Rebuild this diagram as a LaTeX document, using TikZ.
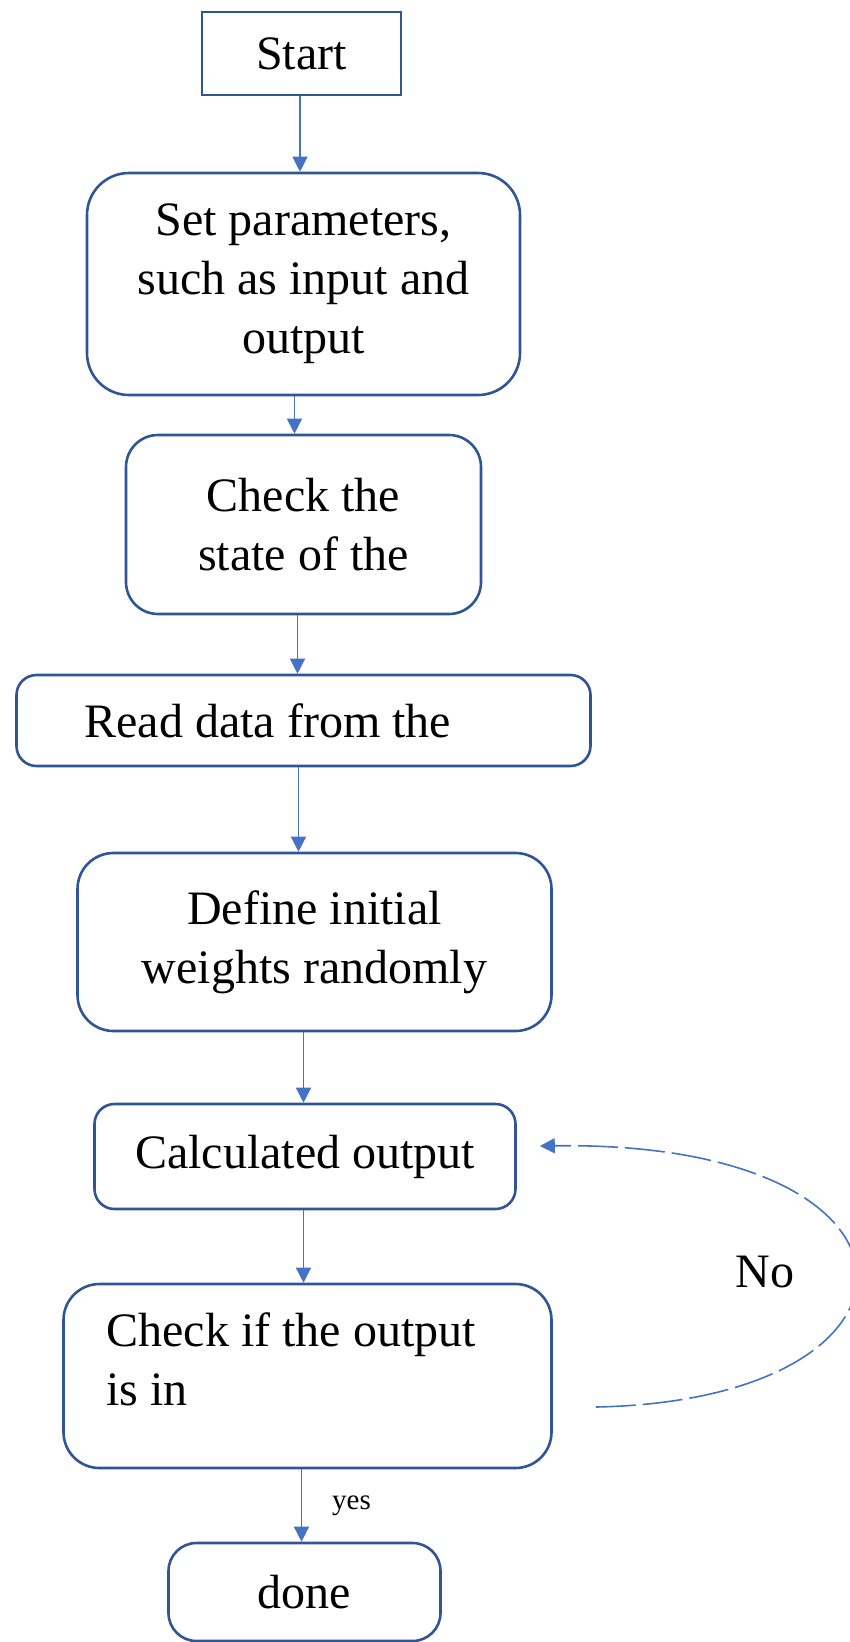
\documentclass[tikz,border=0pt]{standalone}
\usepackage{fontspec}
\setmainfont{Liberation Serif}
\usepackage{xcolor}
\usepackage{tikz}
\usetikzlibrary{arrows.meta}

\definecolor{boxblue}{HTML}{2F5597}
\definecolor{lineblue}{HTML}{4472C4}

\begin{document}
\begin{tikzpicture}[x=1pt, y=-1pt, auto,
    box/.style={draw=boxblue, line width=2.6pt, rectangle, align=center, inner sep=0pt, font=\fontsize{48}{59}\selectfont},
    flow/.style={-{Triangle[length=15pt,width=15pt]}, color=lineblue, line width=1.3pt}]
            \useasboundingbox (0,0) rectangle (850,1642);
            \node[box, minimum width=199pt, minimum height=83pt] (start) at (301.5,53.5) {Start};
            \node[box, rounded corners=42pt, minimum width=433pt, minimum height=222pt, below of=start, node distance=230.5pt, xshift=2pt] (params) {Set parameters,\\such as input and\\output};
            \node[box, rounded corners=32pt, minimum width=355pt, minimum height=179pt, below of=params, node distance=240.5pt] (state) {Check the\\state of the};
            \node[box, rounded corners=20pt, minimum width=574pt, minimum height=91pt, align=flush left, text width=438pt, inner xsep=68pt, below of=state, node distance=196pt] (read) {Read data from the};
            \node[box, rounded corners=36pt, minimum width=474pt, minimum height=178pt, below of=read, node distance=221.5pt, xshift=11pt] (define) {Define initial\\weights randomly};
            \node[box, rounded corners=20pt, minimum width=421pt, minimum height=105pt, below of=define, node distance=214.5pt, xshift=-9.5pt] (calc) {Calculated output};
            \node[box, rounded corners=36pt, minimum width=488pt, minimum height=184pt, align=flush left, text width=402pt, inner xsep=43pt, text depth=93pt, below of=calc, node distance=219.5pt, xshift=2.5pt] (check) {Check if the output\\is in};
            \node[box, rounded corners=28pt, minimum width=272pt, minimum height=98pt, below of=check, node distance=216pt, xshift=-3pt] (done) {done};
            \draw[flow] ([xshift=-1.5pt]start.south) -- ([xshift=-1.5pt]start.south |- params.north);
            \draw[flow] ([xshift=-9pt]params.south) -- ([xshift=-9pt]params.south |- state.north);
            \draw[flow] ([xshift=-6pt]state.south) -- ([xshift=-6pt]state.south |- read.north);
            \draw[flow] ([xshift=-5pt]read.south) -- ([xshift=-5pt]read.south |- define.north);
            \draw[flow] ([xshift=-11pt]define.south) -- ([xshift=-11pt]define.south |- calc.north);
            \draw[flow] ([xshift=-1.5pt]calc.south) -- ([xshift=-1.5pt]calc.south |- check.north);
            \draw[flow] ([xshift=-6pt]check.south) -- node[midway, anchor=west, inner sep=0pt, xshift=30pt, text=black, font=\fontsize{29}{35}\selectfont] {yes} ([xshift=-6pt]check.south |- done.north);
            % loop back when the output is not in range
            \coordinate (loopfrom) at ([shift={(43,31)}]check.east);
            \coordinate (loopto) at ([shift={(23,-10.5)}]calc.east);
            \draw[flow, dash pattern=on 40pt off 7pt, line width=1.6pt] (loopfrom) .. controls +(355,-7) and +(411,-6) .. node[midway, anchor=east, inner sep=0pt, xshift=-60pt, text=black, font=\fontsize{48}{59}\selectfont] {No} (loopto);
        \end{tikzpicture}
\end{document}
